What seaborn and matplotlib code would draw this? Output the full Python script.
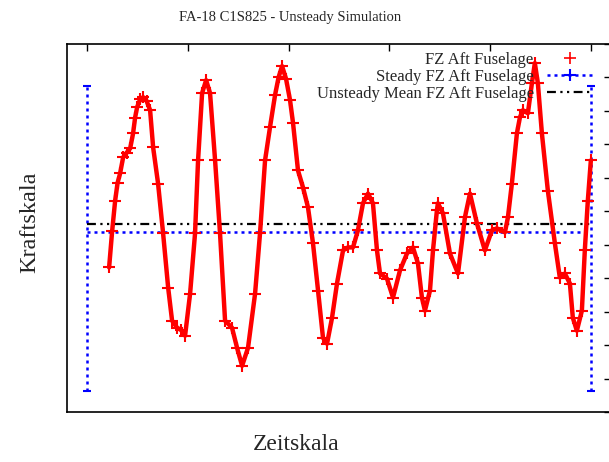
import matplotlib
matplotlib.use("Agg")
import matplotlib.pyplot as plt
from matplotlib.lines import Line2D
import seaborn as sns
import pandas as pd

# ---- data (arbitrary units) ----
time = [0.218, 0.248, 0.278, 0.302, 0.327, 0.357, 0.392, 0.427, 0.456, 0.476,
        0.496, 0.526, 0.556, 0.590, 0.625, 0.655,
        0.704, 0.754, 0.804, 0.843, 0.893, 0.932, 0.972, 1.022, 1.071, 1.101, 1.141,
        1.181, 1.220, 1.270, 1.319, 1.369, 1.438, 1.488, 1.538, 1.597, 1.667,
        1.716, 1.766, 1.815, 1.865, 1.900, 1.935, 1.975, 2.014, 2.044, 2.093, 2.143, 2.192,
        2.242, 2.292, 2.341, 2.381, 2.431, 2.480, 2.540, 2.589, 2.639, 2.688,
        2.738, 2.788, 2.837, 2.877, 2.907, 2.976, 3.036, 3.105, 3.175, 3.234,
        3.284, 3.323, 3.353, 3.403, 3.433, 3.472, 3.482, 3.532, 3.601, 3.681,
        3.750, 3.800, 3.869, 3.948, 4.018, 4.067, 4.147, 4.177, 4.216, 4.266,
        4.296, 4.325, 4.375, 4.415, 4.444, 4.474, 4.514, 4.573, 4.643, 4.692,
        4.742, 4.792, 4.821, 4.861, 4.911, 4.940, 4.970, 5.000]
force = [4.32, 5.40, 6.32, 6.85, 7.13, 7.61, 7.75, 7.88, 8.33, 8.80,
         9.11, 9.35, 9.41, 9.30, 9.02, 7.91,
         6.83, 5.34, 3.72, 2.73, 2.52, 2.45, 2.28, 3.54, 5.34, 7.52, 9.53,
         9.92, 9.53, 7.52, 5.34, 2.73, 2.52, 1.92, 1.38, 1.92, 3.54,
         5.34, 7.52, 8.51, 9.47, 10.00, 10.34, 9.95, 9.32, 8.63, 7.22, 6.71, 6.12,
         5.04, 3.63, 2.22, 2.04, 2.82, 3.84, 4.83, 4.92, 4.92, 5.43,
         6.24, 6.53, 6.24, 4.83, 4.14, 3.99, 3.42, 4.23, 4.74, 4.92,
         4.44, 3.42, 3.03, 3.63, 4.83, 6.03, 6.24, 5.94, 4.74, 4.14,
         5.82, 6.53, 5.64, 4.83, 5.43, 5.49, 5.37, 5.82, 6.83, 8.33,
         8.81, 9.02, 8.93, 9.83, 10.43, 9.83, 8.33, 6.62, 5.04, 4.02,
         4.14, 3.84, 2.82, 2.43, 3.03, 4.83, 6.32, 7.52]

steady_time = [0.0, 5.0]
steady_value = [5.37, 5.37]
steady_err_low = [4.74, 4.74]
steady_err_high = [4.37, 4.37]

mean_time = [0.0, 5.0]
mean_value = [5.61, 5.61]

title = "FA-18 C1S825 - Unsteady Simulation"
labels = ["FZ Aft Fuselage", "Steady FZ Aft Fuselage", "Unsteady Mean FZ Aft Fuselage"]

# ---- style ----
sns.set_theme(style="white")
plt.rcParams["font.family"] = ["Liberation Serif", "DejaVu Serif"]

fig = plt.figure(figsize=(6.09, 4.62), dpi=100)
ax = fig.add_axes([67 / 609, 50 / 462, 544 / 609, 368 / 462])

df = pd.DataFrame({"time": time, "force": force})
sns.lineplot(data=df, x="time", y="force", ax=ax, sort=False, estimator=None,
             color="red", linewidth=3.2, marker="+", markersize=8,
             markeredgewidth=1.5, markeredgecolor="red", legend=False, zorder=3)

sdf = pd.DataFrame({"time": steady_time, "value": steady_value})
sns.lineplot(data=sdf, x="time", y="value", ax=ax, color="blue", linewidth=1.8,
             linestyle=(0, (1.2, 1.6)), legend=False, zorder=2)
eb = ax.errorbar(steady_time, steady_value, yerr=[steady_err_low, steady_err_high],
                 fmt="none", ecolor="blue", elinewidth=1.8, capsize=3,
                 capthick=1.5, zorder=2)
for lc in eb[2]:
    lc.set_linestyle((0, (1.2, 1.6)))

mdf = pd.DataFrame({"time": mean_time, "value": mean_value})
sns.lineplot(data=mdf, x="time", y="value", ax=ax, color="black", linewidth=1.6,
             linestyle=(0, (4, 2, 1, 2, 1, 2)), legend=False, zorder=2)

ax.set_xlim(-0.2, 5.2)
ax.set_ylim(0, 11)
ax.set_xticks(range(0, 6))
ax.set_yticks(range(0, 12))
ax.tick_params(direction="in", length=5, width=1, top=True, right=True,
               labelbottom=False, labelleft=False, color="black")
for s in ax.spines.values():
    s.set_color("black")
    s.set_linewidth(1.2)
ax.set_xlabel("")
ax.set_ylabel("")

fig.text(290 / 609, 1 - 18 / 462, title, ha="center", va="center", fontsize=10.5)
fig.text(296 / 609, 1 - 444 / 462, "Zeitskala", ha="center", va="center", fontsize=17)
fig.text(30 / 609, 1 - 222 / 462, "Kraftskala", ha="center", va="center",
         fontsize=17.5, rotation=90)

handles = [
    Line2D([], [], color="red", marker="+", linestyle="none", markersize=8,
           markeredgewidth=1.2),
    Line2D([], [], color="blue", marker="+", linestyle=(0, (1.2, 1.6)),
           linewidth=1.8, markersize=8, markeredgewidth=1.5),
    Line2D([], [], color="black", linestyle=(0, (4, 2, 1, 2, 1, 2)), linewidth=1.6),
]
ax.legend(handles, labels, loc="upper right", bbox_to_anchor=(592 / 609, 1 - 52 / 462),
          bbox_transform=fig.transFigure, frameon=False, markerfirst=False,
          alignment="right", fontsize=12, handlelength=2.7, labelspacing=0.05,
          handletextpad=0.8, borderpad=0, borderaxespad=0)

fig.savefig("out.png", dpi=100)
